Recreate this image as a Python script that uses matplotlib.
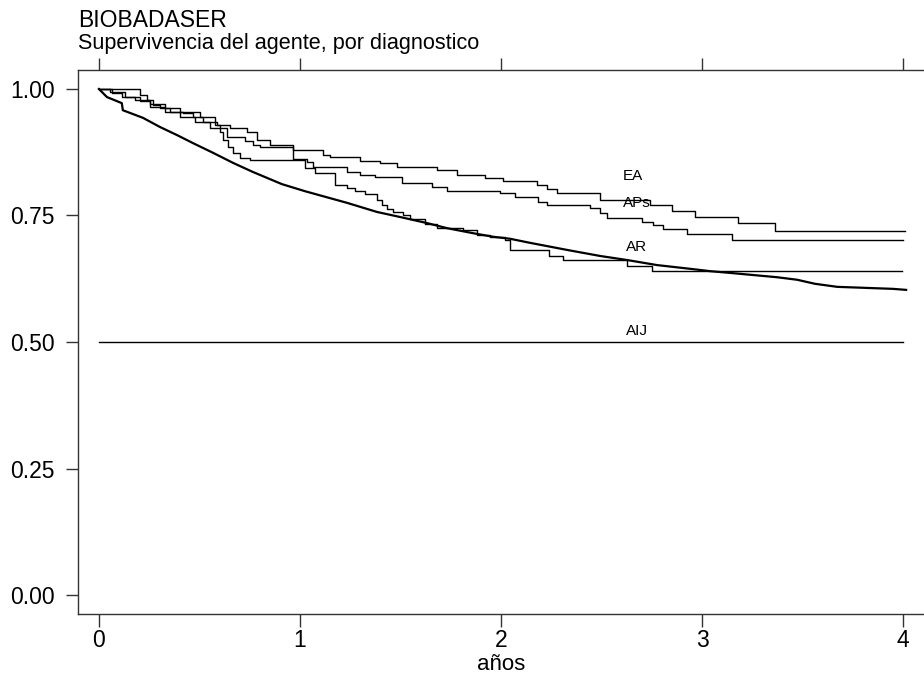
"""Kaplan-Meier style survival curves per diagnosis (BIOBADASER)."""

import matplotlib

matplotlib.use("Agg")
import matplotlib.pyplot as plt

plt.rcParams["font.family"] = ["Liberation Sans", "DejaVu Sans"]

# survival curves, (years, survival) step points
ea_t = [0.000, 0.189, 0.204, 0.239, 0.269, 0.303, 0.353, 0.418, 0.468, 0.517, 0.587,
        0.652, 0.736, 0.786, 0.851, 0.965, 1.114, 1.149, 1.299, 1.398, 1.483, 1.682,
        1.781, 1.920, 2.010, 2.179, 2.229, 2.279, 2.493, 2.741, 2.851, 2.965, 3.179,
        3.363, 4.010]
ea_s = [1.000, 1.000, 0.988, 0.978, 0.968, 0.962, 0.955, 0.953, 0.945, 0.935, 0.929,
        0.923, 0.915, 0.899, 0.889, 0.879, 0.870, 0.866, 0.858, 0.854, 0.846, 0.840,
        0.830, 0.824, 0.818, 0.810, 0.802, 0.794, 0.781, 0.771, 0.759, 0.747, 0.735,
        0.719, 0.719]

aps_t = [0.000, 0.055, 0.129, 0.204, 0.254, 0.328, 0.403, 0.478, 0.552, 0.637, 0.726,
         0.766, 0.801, 0.965, 1.035, 1.065, 1.234, 1.299, 1.373, 1.507, 1.657, 1.731,
         1.995, 2.070, 2.184, 2.229, 2.443, 2.493, 2.527, 2.701, 2.756, 2.806, 2.925,
         3.149, 4.000]
aps_s = [1.000, 0.994, 0.984, 0.976, 0.964, 0.955, 0.945, 0.935, 0.923, 0.905, 0.897,
         0.889, 0.885, 0.862, 0.856, 0.846, 0.836, 0.830, 0.826, 0.814, 0.806, 0.798,
         0.794, 0.787, 0.777, 0.771, 0.765, 0.755, 0.745, 0.737, 0.731, 0.723, 0.713,
         0.702, 0.702]

otros_t = [0.000, 0.065, 0.114, 0.179, 0.254, 0.328, 0.403, 0.502, 0.577, 0.602, 0.617,
           0.642, 0.667, 0.701, 0.751, 1.025, 1.075, 1.174, 1.234, 1.274, 1.323, 1.383,
           1.408, 1.433, 1.463, 1.512, 1.547, 1.622, 1.682, 1.811, 1.881, 1.945, 2.020,
           2.045, 2.239, 2.308, 2.627, 2.751, 3.995]
otros_s = [1.000, 0.992, 0.984, 0.978, 0.970, 0.962, 0.955, 0.945, 0.929, 0.915, 0.899,
           0.885, 0.874, 0.864, 0.860, 0.844, 0.834, 0.810, 0.804, 0.798, 0.792, 0.781,
           0.771, 0.763, 0.757, 0.751, 0.743, 0.733, 0.725, 0.721, 0.711, 0.708, 0.702,
           0.682, 0.670, 0.662, 0.650, 0.640, 0.640]

ar_t = [0.000, 0.020, 0.040, 0.114, 0.119, 0.219, 0.303, 0.388, 0.418, 0.468, 0.567,
        0.667, 0.766, 0.910, 1.025, 1.234, 1.383, 1.498, 1.632, 1.731, 1.861,
        1.960, 2.045, 2.144, 2.328, 2.493, 2.627, 2.776, 2.955, 3.040, 3.154, 3.373,
        3.473, 3.562, 3.672, 3.950, 4.015]
ar_s = [1.000, 0.992, 0.984, 0.972, 0.958, 0.943, 0.925, 0.909, 0.903, 0.893, 0.874,
        0.854, 0.836, 0.812, 0.798, 0.775, 0.757, 0.747, 0.735, 0.725, 0.715,
        0.708, 0.704, 0.696, 0.682, 0.670, 0.662, 0.652, 0.644, 0.640, 0.636, 0.628,
        0.623, 0.615, 0.609, 0.605, 0.603]

aij_t = [0.0, 4.0]
aij_s = [0.5, 0.5]

labels = ["EA", "APs", "AR", "AIJ"]
label_x = [2.607, 2.607, 2.62, 2.62]
label_y = [0.828, 0.775, 0.688, 0.522]

x_ticks = [0, 1, 2, 3, 4]
y_ticks = [0.00, 0.25, 0.50, 0.75, 1.00]


def main() -> int:
    fig = plt.figure(figsize=(9.24, 6.73), dpi=100)
    ax = fig.add_axes([78 / 924, 1 - 614 / 673, 846 / 924, 544 / 673])

    ax.plot(ea_t, ea_s, drawstyle="steps-post", color="black", lw=1.0)
    ax.plot(aps_t, aps_s, drawstyle="steps-post", color="black", lw=1.0)
    ax.plot(otros_t, otros_s, drawstyle="steps-post", color="black", lw=1.0)
    ax.plot(ar_t, ar_s, color="black", lw=1.6)
    ax.plot(aij_t, aij_s, color="black", lw=1.0)

    for name, lx, ly in zip(labels, label_x, label_y):
        ax.text(lx, ly, name, fontsize=11, ha="left", va="center")

    ax.set_xlim(-0.104, 4.104)
    ax.set_ylim(-0.0375, 1.0375)
    ax.set_xticks(x_ticks)
    ax.set_yticks(y_ticks)
    ax.set_yticklabels([f"{v:.2f}" for v in y_ticks])
    ax.spines["right"].set_visible(False)
    for side in ("left", "top", "bottom"):
        ax.spines[side].set_color("#333333")
        ax.spines[side].set_linewidth(1.0)
    ax.tick_params(axis="both", direction="out", length=9, width=1.0,
                   color="#333333", labelsize=16.5)
    ax.tick_params(axis="x", top=True, pad=2)
    ax.tick_params(axis="y", pad=8)
    ax.set_xlabel("años", fontsize=16, labelpad=1)

    fig.text(78 / 924, 1 - 27 / 673, "BIOBADASER", fontsize=16.5,
             ha="left", va="baseline")
    fig.text(78 / 924, 1 - 49 / 673, "Supervivencia del agente, por diagnostico",
             fontsize=15.6, ha="left", va="baseline")

    fig.savefig("out.png", dpi=100)
    plt.close(fig)
    return 0


if __name__ == "__main__":
    raise SystemExit(main())
